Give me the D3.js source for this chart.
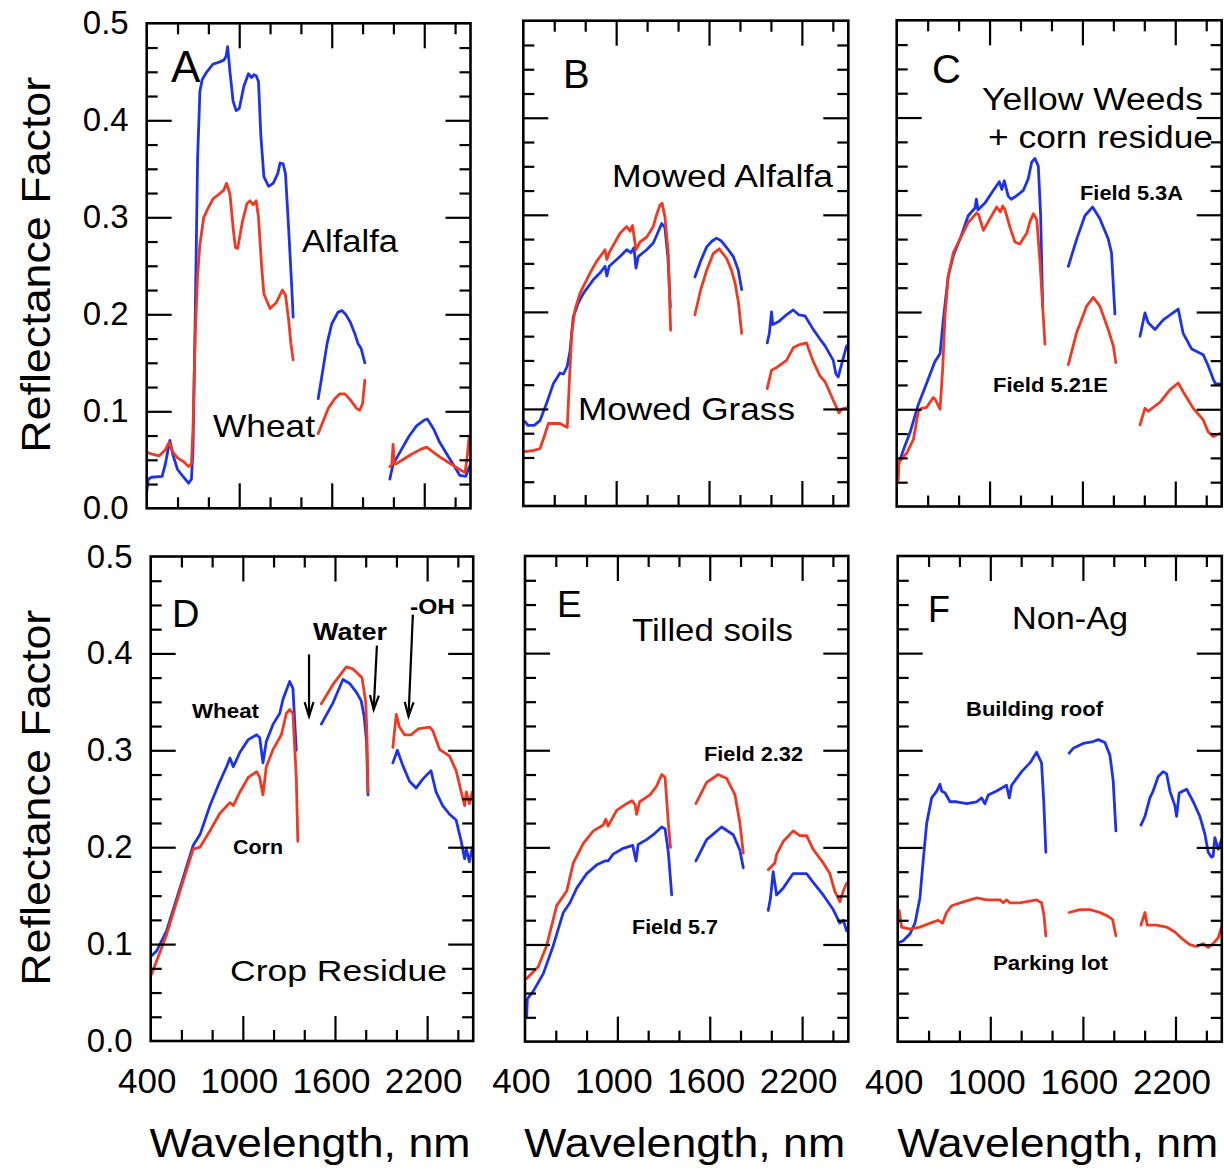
<!DOCTYPE html>
<html><head><meta charset="utf-8">
<script src="https://cdn.jsdelivr.net/npm/d3@7"></script>
<style>
body{margin:0;background:#fff}
svg text{font-family:"Liberation Sans",Arial,Helvetica,sans-serif;fill:#000}
</style></head><body>
<svg id="chart" width="1224" height="1169"></svg>
<script>
// ---------- axis definitions ----------
const xDomain = [400, 2500];
const yDomain = [0, 0.5];
const xMajorTicks = [1000, 1600, 2200];
const xMinorTicks = [600, 800, 1200, 1400, 1800, 2000, 2400];
const yMajorTicks = [0.1, 0.2, 0.3, 0.4];
const yMinorTicks = [0.025,0.05,0.075,0.125,0.15,0.175,0.225,0.25,0.275,0.325,0.35,0.375,0.425,0.45,0.475];
const xTickLabels = [400, 1000, 1600, 2200];
const yTickLabels = [0, 0.1, 0.2, 0.3, 0.4, 0.5];
const xTitle = "Wavelength, nm";
const yTitle = "Reflectance Factor";

// ---------- data: [wavelength nm, reflectance], split into segments at water bands ----------
// Panel A: Alfalfa (blue) / Wheat (red)
const aBlue = [
 [[400,0.017],[410,0.030],[430,0.032],[500,0.033],[520,0.045],[550,0.070],[570,0.055],[600,0.040],[640,0.032],[672,0.026],[690,0.030],[700,0.06],[715,0.20],[730,0.36],[745,0.43],[760,0.442],[790,0.450],[830,0.458],[870,0.460],[900,0.462],[915,0.466],[925,0.476],[940,0.450],[960,0.420],[980,0.410],[1000,0.412],[1030,0.435],[1060,0.448],[1080,0.444],[1095,0.447],[1110,0.446],[1125,0.440],[1140,0.385],[1160,0.342],[1190,0.332],[1220,0.335],[1250,0.345],[1265,0.356],[1285,0.355],[1300,0.345],[1320,0.290],[1340,0.230],[1350,0.197]],
 [[1512,0.113],[1540,0.140],[1570,0.170],[1600,0.190],[1640,0.202],[1665,0.204],[1690,0.200],[1720,0.192],[1750,0.180],[1770,0.170],[1790,0.165],[1815,0.150]],
 [[1977,0.030],[1990,0.040],[2000,0.046],[2050,0.060],[2100,0.074],[2150,0.085],[2200,0.091],[2220,0.092],[2260,0.082],[2300,0.068],[2350,0.055],[2400,0.042],[2430,0.034],[2470,0.033],[2490,0.042],[2500,0.045]]
];
const aRed = [
 [[400,0.058],[430,0.056],[480,0.054],[520,0.060],[545,0.068],[570,0.058],[600,0.052],[640,0.048],[672,0.043],[690,0.046],[700,0.08],[715,0.18],[730,0.24],[745,0.272],[770,0.300],[800,0.310],[830,0.319],[870,0.324],[900,0.328],[918,0.335],[940,0.324],[960,0.290],[975,0.269],[990,0.268],[1020,0.295],[1050,0.314],[1070,0.317],[1090,0.313],[1110,0.317],[1125,0.300],[1145,0.250],[1160,0.221],[1200,0.206],[1240,0.212],[1280,0.225],[1300,0.220],[1320,0.195],[1335,0.170],[1350,0.153]],
 [[1512,0.077],[1540,0.088],[1577,0.103],[1620,0.113],[1653,0.118],[1685,0.118],[1720,0.112],[1761,0.103],[1782,0.101],[1800,0.108],[1815,0.132]],
 [[1977,0.043],[1990,0.045],[1998,0.066],[2005,0.046],[2020,0.046],[2060,0.050],[2120,0.056],[2180,0.061],[2215,0.063],[2250,0.059],[2300,0.053],[2350,0.048],[2400,0.043],[2440,0.039],[2465,0.037],[2480,0.055],[2490,0.072],[2500,0.070]]
];
// Panel B: Mowed alfalfa / Mowed grass
const bBlue = [
 [[411,0.087],[430,0.083],[470,0.083],[508,0.088],[551,0.106],[594,0.126],[637,0.137],[660,0.136],[684,0.144],[702,0.160],[723,0.195],[755,0.209],[788,0.219],[852,0.233],[895,0.240],[928,0.247],[940,0.237],[955,0.247],[1025,0.257],[1068,0.264],[1095,0.261],[1115,0.266],[1128,0.245],[1143,0.257],[1197,0.264],[1240,0.271],[1262,0.279],[1294,0.291],[1315,0.287],[1335,0.255],[1350,0.205]],
 [[1509,0.236],[1545,0.252],[1585,0.267],[1620,0.273],[1649,0.276],[1680,0.273],[1720,0.265],[1757,0.257],[1789,0.243],[1811,0.223]],
 [[1976,0.168],[1990,0.178],[2004,0.200],[2012,0.187],[2050,0.190],[2100,0.197],[2144,0.202],[2180,0.197],[2220,0.196],[2273,0.182],[2317,0.172],[2350,0.165],[2403,0.150],[2420,0.136],[2435,0.133],[2460,0.148],[2489,0.165]]
];
const bRed = [
 [[411,0.056],[460,0.057],[508,0.059],[540,0.074],[562,0.085],[600,0.085],[637,0.085],[684,0.081],[697,0.126],[713,0.178],[734,0.202],[766,0.219],[831,0.240],[874,0.252],[928,0.264],[940,0.254],[955,0.261],[1025,0.281],[1068,0.288],[1090,0.283],[1106,0.289],[1128,0.264],[1154,0.272],[1197,0.277],[1240,0.288],[1257,0.298],[1283,0.310],[1297,0.312],[1315,0.298],[1337,0.260],[1352,0.181]],
 [[1509,0.197],[1545,0.222],[1585,0.243],[1627,0.260],[1666,0.265],[1714,0.255],[1745,0.243],[1768,0.230],[1790,0.210],[1811,0.178]],
 [[1976,0.121],[2004,0.140],[2040,0.143],[2101,0.150],[2144,0.163],[2180,0.166],[2230,0.168],[2273,0.149],[2317,0.134],[2350,0.128],[2403,0.109],[2440,0.096],[2460,0.100],[2489,0.101]]
];
// Panel C: Field 5.3A / Field 5.21E
const cBlue = [
 [[410,0.043],[443,0.058],[486,0.076],[540,0.105],[594,0.127],[647,0.149],[680,0.157],[701,0.192],[733,0.237],[766,0.258],[809,0.275],[862,0.299],[906,0.307],[915,0.316],[925,0.305],[970,0.312],[1024,0.325],[1063,0.334],[1080,0.326],[1095,0.335],[1121,0.319],[1140,0.316],[1170,0.319],[1218,0.325],[1250,0.337],[1272,0.354],[1293,0.358],[1315,0.350],[1330,0.300],[1343,0.206]],
 [[1509,0.247],[1563,0.275],[1616,0.299],[1666,0.308],[1713,0.296],[1767,0.275],[1788,0.261],[1810,0.198]],
 [[1972,0.175],[2004,0.199],[2025,0.189],[2069,0.182],[2122,0.192],[2219,0.203],[2251,0.178],[2306,0.162],[2381,0.156],[2412,0.145],[2445,0.131],[2460,0.126],[2488,0.126]]
];
const cRed = [
 [[410,0.027],[415,0.046],[465,0.055],[508,0.069],[540,0.098],[561,0.101],[594,0.102],[636,0.112],[650,0.110],[680,0.100],[697,0.141],[712,0.196],[733,0.237],[766,0.261],[809,0.275],[862,0.292],[917,0.302],[930,0.300],[960,0.284],[1003,0.296],[1046,0.308],[1070,0.303],[1085,0.309],[1100,0.305],[1132,0.287],[1164,0.272],[1195,0.270],[1240,0.281],[1261,0.293],[1283,0.301],[1305,0.295],[1326,0.251],[1343,0.206],[1358,0.167]],
 [[1509,0.146],[1563,0.179],[1627,0.206],[1670,0.215],[1713,0.206],[1767,0.182],[1800,0.165],[1816,0.148]],
 [[1972,0.084],[2004,0.101],[2025,0.098],[2101,0.107],[2165,0.120],[2219,0.127],[2251,0.118],[2316,0.101],[2381,0.089],[2412,0.077],[2445,0.072],[2488,0.075]]
];
// Panel D: Wheat residue / Corn residue
const dBlue = [
 [[406,0.088],[439,0.093],[504,0.114],[591,0.158],[677,0.202],[721,0.213],[786,0.243],[851,0.268],[894,0.283],[916,0.292],[938,0.283],[981,0.298],[1035,0.311],[1090,0.316],[1110,0.313],[1131,0.287],[1153,0.309],[1197,0.327],[1240,0.338],[1262,0.353],[1305,0.371],[1326,0.364],[1348,0.300]],
 [[1511,0.327],[1587,0.349],[1652,0.373],[1695,0.369],[1739,0.360],[1771,0.351],[1790,0.335],[1805,0.310],[1815,0.254]],
 [[1977,0.287],[2006,0.300],[2040,0.285],[2085,0.268],[2128,0.261],[2170,0.270],[2225,0.279],[2258,0.257],[2301,0.243],[2346,0.234],[2389,0.228],[2422,0.206],[2444,0.188],[2455,0.198],[2475,0.185],[2495,0.200]]
];
const dRed = [
 [[406,0.069],[504,0.110],[591,0.155],[677,0.198],[721,0.200],[786,0.217],[851,0.235],[916,0.246],[938,0.243],[981,0.257],[1035,0.272],[1090,0.278],[1110,0.272],[1131,0.254],[1153,0.283],[1197,0.301],[1251,0.316],[1283,0.338],[1305,0.342],[1326,0.338],[1348,0.272],[1358,0.206]],
 [[1511,0.348],[1587,0.368],[1674,0.386],[1717,0.384],[1776,0.375],[1800,0.350],[1808,0.316],[1815,0.257]],
 [[1977,0.303],[1999,0.337],[2020,0.324],[2053,0.316],[2095,0.316],[2141,0.322],[2216,0.324],[2238,0.320],[2281,0.301],[2346,0.294],[2389,0.279],[2422,0.257],[2444,0.243],[2455,0.257],[2475,0.245],[2495,0.257]]
];
// Panel E: Field 5.7 / Field 2.32
const eBlue = [
 [[411,0.026],[415,0.044],[454,0.052],[519,0.070],[584,0.099],[649,0.133],[692,0.143],[736,0.158],[801,0.173],[866,0.182],[919,0.186],[940,0.186],[973,0.193],[1038,0.199],[1100,0.202],[1121,0.186],[1135,0.203],[1190,0.208],[1233,0.213],[1288,0.221],[1310,0.219],[1331,0.195],[1353,0.151]],
 [[1510,0.186],[1580,0.208],[1677,0.221],[1753,0.213],[1796,0.197],[1818,0.179]],
 [[1980,0.135],[1995,0.148],[2012,0.175],[2034,0.151],[2077,0.158],[2142,0.173],[2229,0.173],[2272,0.164],[2337,0.151],[2402,0.136],[2445,0.122],[2467,0.125],[2489,0.114]]
];
const eRed = [
 [[411,0.065],[486,0.077],[541,0.099],[606,0.140],[671,0.155],[714,0.184],[779,0.204],[844,0.217],[908,0.223],[925,0.229],[940,0.222],[995,0.238],[1060,0.245],[1095,0.248],[1115,0.244],[1125,0.234],[1145,0.247],[1212,0.254],[1255,0.263],[1288,0.275],[1310,0.272],[1331,0.225],[1345,0.200]],
 [[1510,0.245],[1580,0.267],[1655,0.275],[1710,0.271],[1764,0.254],[1796,0.225],[1818,0.194]],
 [[1980,0.177],[2023,0.184],[2035,0.193],[2077,0.206],[2142,0.217],[2185,0.212],[2229,0.212],[2272,0.198],[2337,0.184],[2380,0.173],[2412,0.155],[2445,0.144],[2467,0.155],[2489,0.163]]
];
// Panel F: Building roof / Parking lot
const fBlue = [
 [[410,0.102],[435,0.104],[480,0.111],[512,0.122],[544,0.148],[566,0.188],[588,0.225],[620,0.251],[653,0.258],[674,0.265],[685,0.258],[707,0.256],[739,0.247],[782,0.247],[847,0.245],[912,0.247],[944,0.251],[965,0.245],[987,0.254],[1041,0.258],[1084,0.262],[1105,0.264],[1123,0.251],[1138,0.264],[1171,0.271],[1203,0.278],[1257,0.287],[1300,0.298],[1332,0.287],[1347,0.245],[1360,0.195]],
 [[1511,0.297],[1537,0.302],[1602,0.307],[1667,0.309],[1700,0.311],[1743,0.308],[1775,0.295],[1796,0.269],[1814,0.217]],
 [[1976,0.223],[2002,0.232],[2034,0.251],[2055,0.258],[2088,0.273],[2120,0.278],[2142,0.276],[2164,0.258],[2196,0.243],[2207,0.232],[2224,0.256],[2272,0.260],[2315,0.247],[2358,0.232],[2390,0.214],[2412,0.195],[2433,0.190],[2444,0.191],[2455,0.210],[2477,0.198],[2498,0.208]]
];
const fRed = [
 [[410,0.135],[425,0.118],[480,0.116],[544,0.118],[609,0.122],[663,0.125],[690,0.122],[717,0.133],[750,0.140],[825,0.144],[912,0.148],[976,0.146],[1063,0.146],[1084,0.143],[1105,0.146],[1127,0.143],[1192,0.143],[1300,0.146],[1332,0.143],[1347,0.131],[1360,0.109]],
 [[1511,0.133],[1581,0.136],[1645,0.136],[1711,0.133],[1764,0.129],[1792,0.126],[1814,0.109]],
 [[1976,0.120],[2002,0.133],[2017,0.120],[2077,0.120],[2142,0.118],[2196,0.113],[2250,0.105],[2293,0.100],[2336,0.098],[2379,0.101],[2412,0.097],[2444,0.101],[2477,0.107],[2498,0.118]]
];
// absorption-feature arrows in panel D: [nm start, refl start, nm tip, refl tip]
const dArrows = [[1431,0.399,1431,0.335],[1873,0.408,1852,0.342],[2107,0.440,2079,0.335]];

// ---------- layout ----------
const BLUE = "#1f33e6", RED = "#ee3a22";
const panels = [
 {box:[146.7,23.3,323.8,485], blue:aBlue, red:aRed, yLab:true,  xLab:false, letter:"A", lx:171, ly:82, ls:44,
  notes:[["Alfalfa",302,252,31,false,96],["Wheat",213,437,32,false,102]]},
 {box:[523.3,20.7,325,485.3], blue:bBlue, red:bRed, yLab:false, xLab:false, letter:"B", lx:563, ly:88, ls:40,
  notes:[["Mowed Alfalfa",612,187,31,false,221],["Mowed Grass",578,420,31,false,217]]},
 {box:[896.7,20.3,325,486.2], blue:cBlue, red:cRed, yLab:false, xLab:false, letter:"C", lx:932, ly:83, ls:40,
  notes:[["Yellow Weeds",982,110,31,false,221],["+ corn residue",988,148,31,false,225],["Field 5.3A",1080,200,21,true,103],["Field 5.21E",993,392,21,true,115]]},
 {box:[150.7,556.5,322.5,484.5], blue:dBlue, red:dRed, yLab:true, xLab:true, letter:"D", lx:172, ly:627, ls:38, arrows:dArrows,
  notes:[["Wheat",192,718,20,true,67],["Corn",233,854,20,true,50],["Water",313,640,23,true,74],["-OH",410,614,22,true,45],["Crop Residue",230,981,30,false,217]]},
 {box:[525,556,323.3,485.6], blue:eBlue, red:eRed, yLab:false, xLab:true, letter:"E", lx:557, ly:617, ls:37,
  notes:[["Tilled soils",632,641,32,false,161],["Field 2.32",704,761,20,true,99],["Field 5.7",632,934,20,true,86]]},
 {box:[897.7,556,324.1,485.7], blue:fBlue, red:fRed, yLab:false, xLab:true, letter:"F", lx:928, ly:622, ls:36,
  notes:[["Non-Ag",1012,629,32,false,116],["Building roof",966,716,21,true,137],["Parking lot",993,970,21,true,115]]}
];

const svg = d3.select("#chart");
const defs = svg.append("defs");
const FONT = '"Liberation Sans",Arial,Helvetica,sans-serif';

panels.forEach((p, i) => {
  const [L, T, w, h] = p.box;
  const x = d3.scaleLinear().domain(xDomain).range([0, w]);
  const y = d3.scaleLinear().domain(yDomain).range([h, 0]);
  const g = svg.append("g").attr("transform", `translate(${L},${T})`);
  defs.append("clipPath").attr("id", "clip" + i).append("rect").attr("width", w).attr("height", h);

  const line = d3.line().x(d => x(d[0])).y(d => y(d[1]));
  const lg = g.append("g").attr("clip-path", `url(#clip${i})`);
  [[p.blue, BLUE], [p.red, RED]].forEach(([segs, col]) => {
    lg.selectAll(null).data(segs).enter().append("path")
      .attr("d", line).attr("fill", "none").attr("stroke", col)
      .attr("stroke-width", 2.8).attr("stroke-linejoin", "round").attr("stroke-linecap", "round");
  });

  // inward ticks on all four sides
  const tickSets = [
    [d3.axisBottom(x), `translate(0,${h})`, xMajorTicks, xMinorTicks],
    [d3.axisTop(x), `translate(0,0)`, xMajorTicks, xMinorTicks],
    [d3.axisLeft(y), `translate(0,0)`, yMajorTicks, yMinorTicks],
    [d3.axisRight(y), `translate(${w},0)`, yMajorTicks, yMinorTicks]
  ];
  tickSets.forEach(([ax, tr, maj, min]) => {
    [[maj, 25], [min, 11]].forEach(([vals, len]) => {
      const a = g.append("g").attr("transform", tr)
        .call(ax.tickValues(vals).tickSize(-len).tickFormat(""));
      a.select(".domain").remove();
      a.selectAll("line").attr("stroke", "#000").attr("stroke-width", 2.2);
    });
  });

  if (p.yLab) {
    const a = g.append("g").call(d3.axisLeft(y).tickValues(yTickLabels).tickSize(0).tickPadding(18).tickFormat(d3.format(".1f")));
    a.select(".domain").remove();
    a.attr("font-size", 33).attr("font-family", FONT);
  }
  if (p.xLab) {
    const a = g.append("g").attr("transform", `translate(0,${h})`)
      .call(d3.axisBottom(x).tickValues(xTickLabels).tickSize(0).tickPadding(27).tickFormat(d3.format("d")));
    a.select(".domain").remove();
    a.attr("font-size", 35).attr("font-family", FONT);
    a.selectAll("text").attr("dx", -4);
    svg.append("text").attr("x", L + w / 2 - 2).attr("y", 1157)
      .attr("text-anchor", "middle").attr("font-size", 41)
      .attr("textLength", 321).attr("lengthAdjust", "spacingAndGlyphs").text(xTitle);
  }
  if (p.yLab) {
    const cy = T + h / 2 - 1;
    svg.append("text").attr("transform", `translate(50,${cy}) rotate(-90)`)
      .attr("text-anchor", "middle").attr("font-size", 41)
      .attr("textLength", 376).attr("lengthAdjust", "spacingAndGlyphs").text(yTitle);
  }

  // frame
  g.append("rect").attr("width", w).attr("height", h).attr("fill", "none")
    .attr("stroke", "#000").attr("stroke-width", 2.6);

  // arrows
  if (p.arrows) {
    p.arrows.forEach(([x1, y1, x2, y2]) => {
      const X1 = x(x1), Y1 = y(y1), X2 = x(x2), Y2 = y(y2);
      g.append("line").attr("x1", X1).attr("y1", Y1).attr("x2", X2).attr("y2", Y2)
        .attr("stroke", "#000").attr("stroke-width", 2.2);
      const ang = Math.atan2(Y2 - Y1, X2 - X1);
      const hl = 15, ha = 0.3;
      const p1 = [X2 - hl * Math.cos(ang - ha), Y2 - hl * Math.sin(ang - ha)];
      const p2 = [X2 - hl * Math.cos(ang + ha), Y2 - hl * Math.sin(ang + ha)];
      g.append("path").attr("d", `M${p1[0]},${p1[1]}L${X2},${Y2}L${p2[0]},${p2[1]}`)
        .attr("fill", "none").attr("stroke", "#000").attr("stroke-width", 2.2);
    });
  }

  // panel letter
  svg.append("text").attr("x", p.lx).attr("y", p.ly).attr("font-size", p.ls).text(p.letter);
  // annotations
  p.notes.forEach(([t, nx, ny, s, bold, len]) => {
    const tx = svg.append("text").attr("x", nx).attr("y", ny).attr("font-size", s)
      .attr("font-weight", bold ? "bold" : "normal").text(t);
    if (len) tx.attr("textLength", len).attr("lengthAdjust", "spacingAndGlyphs");
  });
});
</script>
</body></html>
